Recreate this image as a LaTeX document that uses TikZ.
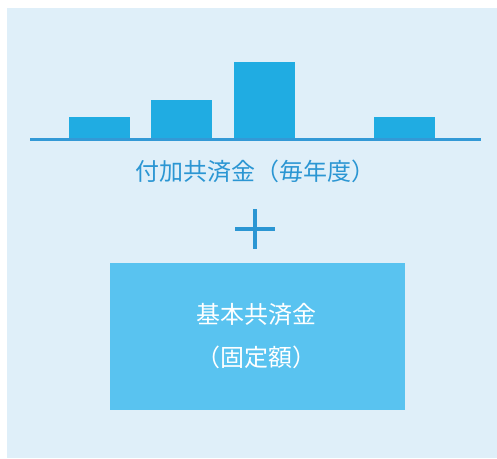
\documentclass[tikz,border=0pt]{standalone}
\usepackage{fontspec}
\usepackage{xcolor}
\usepackage{tikz}
\usetikzlibrary{positioning,calc}
\newfontfamily\cjk{Noto Sans CJK JP}
\definecolor{panelbg}{HTML}{DFEFF9}
\definecolor{barblue}{HTML}{20ACE2}
\definecolor{axisblue}{HTML}{3399D6}
\definecolor{textblue}{HTML}{2B96D3}
\definecolor{boxblue}{HTML}{59C3F0}

\begin{document}
\begin{tikzpicture}[x=1pt,y=-1pt,
    bar/.style={fill=barblue, draw=none},
    label/.style={font=\cjk\fontsize{24}{43}\selectfont, inner sep=0pt, align=center}]
    \useasboundingbox (0,0) rectangle (497,458);

    % Panel
    \fill[panelbg] (7,8) rectangle (497,458);

    % Bars (yearly)
    \fill[bar] (69,138) rectangle (130,117);
    \fill[bar] (151,138) rectangle (212,100);
    \fill[bar] (234,138) rectangle (295,62);
    \fill[bar] (374,138) rectangle (435,117);

    % Axis
    \coordinate (axisL) at (30,139.3);
    \coordinate (axisR) at (481,139.3);
    \draw[axisblue, line width=2.6pt] (axisL) -- (axisR);

    \node[label, text=textblue] (extra) at (255,171) {付加共済金（毎年度）};

    % Plus sign
    \coordinate (plusC) at (255,229);
    \draw[textblue, line width=4pt] ($(plusC)+(-20,0)$) -- ($(plusC)+(20,0)$);
    \draw[textblue, line width=4pt] ($(plusC)+(0,-20)$) -- ($(plusC)+(0,20)$);

    % Fixed part
    \fill[boxblue] (110,263) rectangle (405,410);
    \node[label, text=white] (base) at (256,336.5) {基本共済金\\（固定額）};
\end{tikzpicture}
\end{document}
